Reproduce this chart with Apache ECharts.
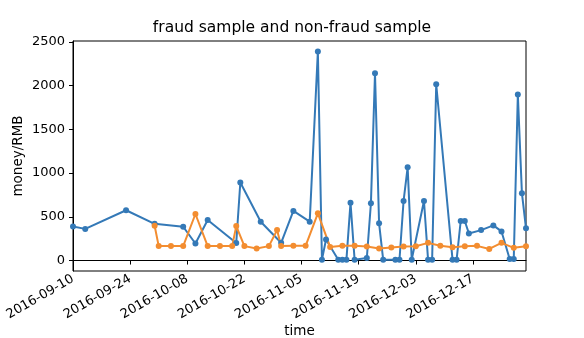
<!DOCTYPE html>
<html><head><meta charset="utf-8">
<script src="https://cdn.jsdelivr.net/npm/echarts@6/dist/echarts.min.js"></script>
<style>html,body{margin:0;padding:0;background:#fff}#c{width:584px;height:338px}</style>
</head><body><div id="c"></div>
<script>
var fraudDates = ['2016-09-10','2016-09-13','2016-09-23','2016-09-30','2016-10-07','2016-10-10','2016-10-13','2016-10-20','2016-10-21','2016-10-26','2016-10-31','2016-11-03','2016-11-07','2016-11-09','2016-11-10','2016-11-11','2016-11-14','2016-11-15','2016-11-16','2016-11-17','2016-11-18','2016-11-21','2016-11-22','2016-11-23','2016-11-24','2016-11-25','2016-11-28','2016-11-29','2016-11-30','2016-12-01','2016-12-02','2016-12-05','2016-12-06','2016-12-07','2016-12-08','2016-12-12','2016-12-13','2016-12-14','2016-12-15','2016-12-16','2016-12-19','2016-12-22','2016-12-24','2016-12-26','2016-12-27','2016-12-28','2016-12-29','2016-12-30'];
var fraudValues = [388,362,575,420,386,195,463,200,892,444,203,567,444,2390,10,240,10,10,10,662,10,30,655,2140,425,10,10,10,681,1065,10,681,10,10,2015,10,10,452,452,310,348,402,333,18,18,1897,770,368];
var normalDates = ['2016-09-30','2016-10-01','2016-10-04','2016-10-07','2016-10-10','2016-10-13','2016-10-16','2016-10-19','2016-10-20','2016-10-22','2016-10-25','2016-10-28','2016-10-30','2016-10-31','2016-11-03','2016-11-06','2016-11-09','2016-11-12','2016-11-15','2016-11-18','2016-11-21','2016-11-24','2016-11-27','2016-11-30','2016-12-03','2016-12-06','2016-12-09','2016-12-12','2016-12-15','2016-12-18','2016-12-21','2016-12-24','2016-12-27','2016-12-30'];
var normalValues = [398,165,165,165,532,165,165,165,394,165,138,165,348,165,168,168,540,156,168,168,160,138,149,160,164,202,170,153,164,168,133,202,145,164];
var xTickLabels = ['2016-09-10','2016-09-24','2016-10-08','2016-10-22','2016-11-05','2016-11-19','2016-12-03','2016-12-17'];
var yTickValues = [0,500,1000,1500,2000,2500];

function ts(s){var p=s.split('-');return Date.UTC(+p[0],+p[1]-1,+p[2]);}
function pad(n){return (n<10?'0':'')+n;}
function fmt(v){var d=new Date(v);return d.getUTCFullYear()+'-'+pad(d.getUTCMonth()+1)+'-'+pad(d.getUTCDate());}
var fraudData = fraudDates.map(function(d,i){return [ts(d),fraudValues[i]];});
var normalData = normalDates.map(function(d,i){return [ts(d),normalValues[i]];});
var xTicks = xTickLabels.map(ts);

var font = 'DejaVu Sans';
var chart = echarts.init(document.getElementById('c'),null,{renderer:'canvas'});
chart.setOption({
  animation:false,
  backgroundColor:'#fff',
  title:{text:'fraud sample and non-fraud sample',left:'center',top:20,padding:0,
    textStyle:{fontFamily:font,fontSize:15.5,fontWeight:'normal',color:'#000'}},
  grid:{left:73,right:58,top:41,bottom:67,show:true,borderColor:'#000',borderWidth:1,backgroundColor:'transparent',
    containLabel:false,outerBoundsMode:'none'},
  xAxis:{type:'value',min:ts('2016-09-10'),max:ts('2016-12-30'),
    name:'time',nameLocation:'middle',nameGap:53,nameMoveOverlap:false,
    nameTextStyle:{fontFamily:font,fontSize:13.5,color:'#000'},
    axisLine:{show:true,lineStyle:{color:'#000',width:1}},
    axisTick:{show:true,length:4,lineStyle:{color:'#000'},customValues:xTicks},
    axisLabel:{rotate:30,margin:7,fontFamily:font,fontSize:13,color:'#000',customValues:xTicks,
      formatter:function(v){return fmt(v);},hideOverlap:false},
    splitLine:{show:false}},
  yAxis:{type:'value',min:-119.5,max:2509.5,
    name:'money/RMB',nameLocation:'middle',nameGap:48,nameRotate:90,nameMoveOverlap:false,
    nameTextStyle:{fontFamily:font,fontSize:13.5,color:'#000'},
    axisLine:{show:true,lineStyle:{color:'#000',width:1}},
    axisTick:{show:true,length:4,lineStyle:{color:'#000'},customValues:yTickValues},
    axisLabel:{margin:8,fontFamily:font,fontSize:13,color:'#000',customValues:yTickValues,
      formatter:function(v){return String(v);}},
    splitLine:{show:false}},
  series:[
    {type:'line',name:'fraud',data:fraudData,symbol:'circle',symbolSize:6,showAllSymbol:true,
      lineStyle:{color:'#3479b7',width:2},itemStyle:{color:'#3479b7'}},
    {type:'line',name:'normal',data:normalData,symbol:'circle',symbolSize:6,showAllSymbol:true,
      lineStyle:{color:'#f38d30',width:2},itemStyle:{color:'#f38d30'}}
  ]
});
</script></body></html>
